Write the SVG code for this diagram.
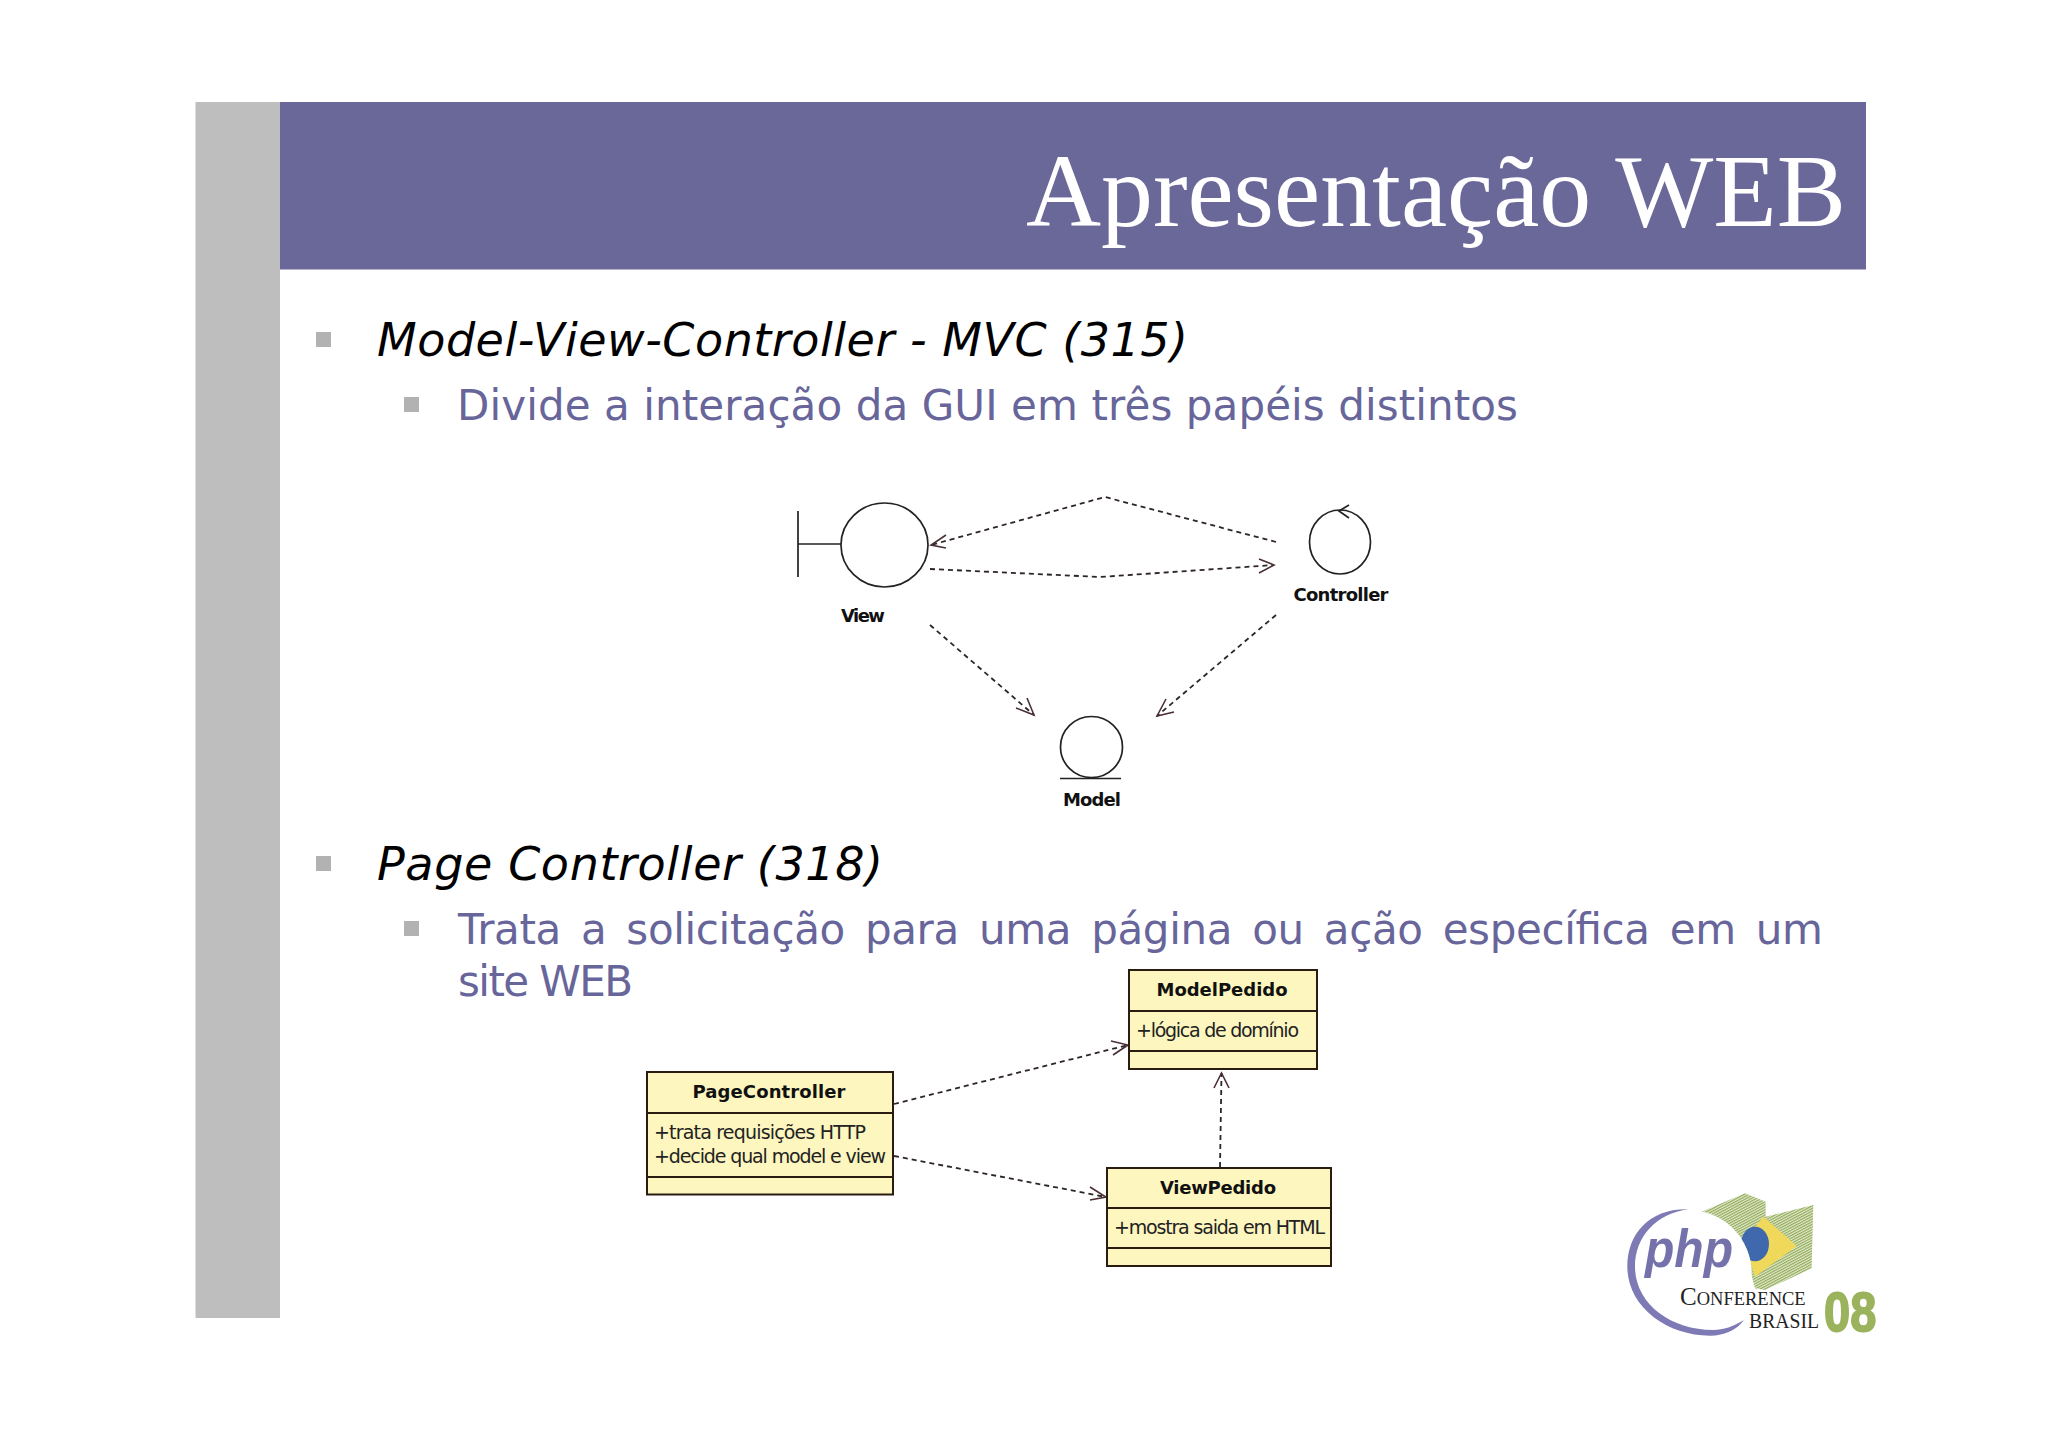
<svg xmlns="http://www.w3.org/2000/svg" width="2048" height="1447" viewBox="0 0 2048 1447">
<style>
.h1{font-family:"DejaVu Sans",Verdana,sans-serif;font-style:italic;font-size:46px;fill:#000}
.h2{font-family:"DejaVu Sans",Verdana,sans-serif;font-size:42px;fill:#67659a}
.b1{fill:#b2b2b2}
.line{fill:none;stroke:#222;stroke-width:1.7}
.dash{fill:none;stroke:#2e2626;stroke-width:1.8;stroke-dasharray:5 4}
.head{fill:none;stroke:#4a3035;stroke-width:1.6}
.lbl{font-family:"DejaVu Sans",sans-serif;font-weight:bold;font-size:18px;fill:#111;text-anchor:middle}
.attr{font-family:"DejaVu Sans",sans-serif;font-size:19px;fill:#222}
.cls{fill:#fdf6bf;stroke:#2a1c10;stroke-width:2}
.div{stroke:#2a1c10;stroke-width:2}
</style>
<defs>
<pattern id="hatch" width="7" height="7" patternUnits="userSpaceOnUse" patternTransform="rotate(-28)">
<rect width="7" height="7" fill="#e4ebcb"/><rect width="7" height="3.5" fill="#8fa95c"/>
</pattern>
</defs>
<rect width="2048" height="1447" fill="#fff"/>
<rect id="sidebar" x="195.500" y="102" width="84.500" height="1216" fill="#bebebe"/>
<g id="header">
<rect x="280" y="102" width="1586" height="167.500" fill="#6a6799"/>
<text x="1026" y="226" font-family="'Liberation Serif',serif" font-size="103" fill="#fff" textLength="820" lengthAdjust="spacingAndGlyphs">Apresentação WEB</text>
</g>
<g id="bullets">
<rect class="b1" x="316" y="332" width="15" height="15"/>
<text class="h1" x="377" y="356" textLength="811">Model-View-Controller - MVC (315)</text>
<rect class="b1" x="404" y="397" width="15" height="15"/>
<text class="h2" x="457" y="420" textLength="1061">Divide a interação da GUI em três papéis distintos</text>
<rect class="b1" x="316" y="856" width="15" height="15"/>
<text class="h1" x="377" y="880" textLength="506">Page Controller (318)</text>
<rect class="b1" x="404" y="921" width="15" height="15"/>
<text class="h2" x="458" y="944" textLength="1365" style="word-spacing:7px">Trata a solicitação para uma página ou ação específica em um</text>
<text class="h2" x="458" y="996" textLength="175">site WEB</text>
</g>
<g id="connectors">
<polyline class="dash" points="1276,542 1105,497 931,545"/>
<polyline class="head" points="946,535 931,545 946,548"/>
<polyline class="dash" points="930,569 1100,577 1274,565"/>
<polyline class="head" points="1259,559 1274,565 1259,573"/>
<line class="dash" x1="930" y1="625" x2="1034" y2="715"/>
<polyline class="head" points="1016,708 1034,715 1027,698"/>
<line class="dash" x1="1276" y1="615" x2="1157" y2="716"/>
<polyline class="head" points="1166,699 1157,716 1174,712"/>
<line class="dash" x1="894" y1="1104" x2="1128" y2="1045"/>
<polyline class="head" points="1111,1041 1128,1045 1113,1055"/>
<line class="dash" x1="894" y1="1156" x2="1106" y2="1197"/>
<polyline class="head" points="1090,1187 1106,1197 1090,1200"/>
<line class="dash" x1="1220" y1="1167" x2="1221.500" y2="1073"/>
<polyline class="head" points="1214,1088 1221.500,1073 1229,1088"/>
</g>
<g id="view">
<ellipse class="line" cx="884.500" cy="545" rx="43.500" ry="42"/>
<path class="line" d="M798 511V577M798 544H841"/>
<text class="lbl" x="863" y="622" textLength="44">View</text>
</g>
<g id="controller">
<ellipse class="line" cx="1340" cy="542" rx="30.500" ry="32"/>
<polyline class="line" points="1349,505 1339,511 1349,518"/>
<text class="lbl" x="1341" y="601" textLength="95">Controller</text>
</g>
<g id="model">
<ellipse class="line" cx="1091.500" cy="747" rx="31" ry="30.500"/>
<path class="line" d="M1060 778.500H1121"/>
<text class="lbl" x="1092" y="806" textLength="58">Model</text>
</g>
<g id="pagecontroller">
<rect class="cls" x="647" y="1072" width="246" height="122.500"/>
<path class="div" d="M647 1113H893M647 1177H893"/>
<text class="lbl" x="769" y="1098" textLength="153">PageController</text>
<text class="attr" x="654" y="1139" textLength="212">+trata requisições HTTP</text>
<text class="attr" x="654" y="1163" textLength="232">+decide qual model e view</text>
</g>
<g id="modelpedido">
<rect class="cls" x="1129" y="970" width="188" height="99"/>
<path class="div" d="M1129 1011H1317M1129 1051H1317"/>
<text class="lbl" x="1222" y="996" textLength="131">ModelPedido</text>
<text class="attr" x="1136" y="1037" textLength="163">+lógica de domínio</text>
</g>
<g id="viewpedido">
<rect class="cls" x="1107" y="1168" width="224" height="98"/>
<path class="div" d="M1107 1208H1331M1107 1248H1331"/>
<text class="lbl" x="1218" y="1194" textLength="116">ViewPedido</text>
<text class="attr" x="1114" y="1234" textLength="211">+mostra saida em HTML</text>
</g>
<g id="logo">
<g transform="translate(1600 1170) scale(.3333)">
<polygon points="305,125 435,70 497,95 497,140 640,105 635,295 495,360 465,355 440,260" fill="url(#hatch)"/>
<polygon points="490,140 590,228 465,320 430,210" fill="#f0d85a"/>
<ellipse cx="465" cy="222" rx="42" ry="52" fill="#3f68ad"/>
<circle cx="265" cy="310" r="190" fill="#fff"/>
<path d="M265 118C150 115 82 190 82 290C82 410 200 497 330 497C375 497 410 480 432 450C400 470 370 480 340 480C210 480 105 400 105 290C105 200 170 130 265 118Z" fill="#7d7ab5"/>
</g>
<text x="1645" y="1267" font-family="'Liberation Sans',sans-serif" font-style="italic" font-weight="bold" font-size="54" fill="#7471ab" textLength="88" lengthAdjust="spacingAndGlyphs">php</text>
<text x="1680" y="1305" font-family="'Liberation Serif',serif" font-size="18.500" fill="#222"><tspan font-size="25">C</tspan>ONFERENCE</text>
<text x="1749" y="1328" font-family="'Liberation Serif',serif" font-size="20" fill="#222" textLength="70" lengthAdjust="spacingAndGlyphs">BRASIL</text>
<text transform="translate(1824 1331) scale(1 1.200)" font-family="'Liberation Sans',sans-serif" font-weight="bold" font-size="47" fill="#9ab35c" stroke="#9ab35c" stroke-width="1.500">08</text>
</g>
</svg>
